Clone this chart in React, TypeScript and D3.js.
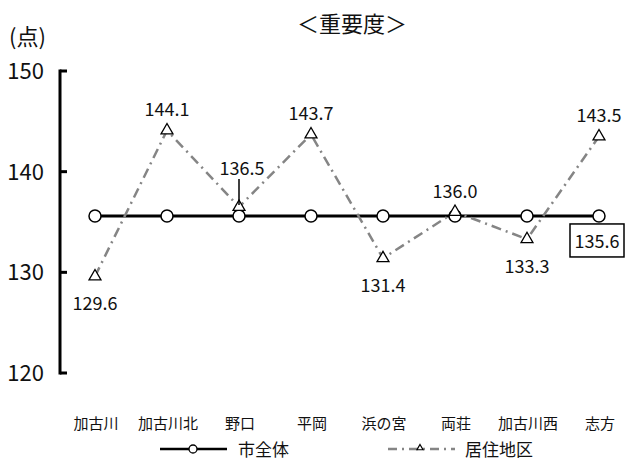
import * as d3 from "d3";

const W = 626;
const H = 461;
const FONT = "'Noto Sans CJK JP', sans-serif";

// data
const categories = ["加古川", "加古川北", "野口", "平岡", "浜の宮", "両荘", "加古川西", "志方"];
const cityTotal = [135.6, 135.6, 135.6, 135.6, 135.6, 135.6, 135.6, 135.6];
const district = [129.6, 144.1, 136.5, 143.7, 131.4, 136.0, 133.3, 143.5];
// label placement per district point: "up" | "down" | "lead"
const labelPos = ["down", "up", "lead", "up", "down", "up", "down", "up"];
const yTicks = [120, 130, 140, 150];
const seriesNames = ["市全体", "居住地区"];

const AXIS_X = 60;
const Y_TOP = 71;
const Y_BOTTOM = 373;

const App = () => {
  const x = d3.scalePoint<string>().domain(categories).range([95, 599]);
  const y = d3.scaleLinear().domain([120, 150]).range([Y_BOTTOM, Y_TOP]);

  const line = d3
    .line<number>()
    .x((_, i) => x(categories[i])!)
    .y((d) => y(d));

  const tri = d3.symbol().type(d3.symbolTriangle).size(62)()!;
  const triSmall = d3.symbol().type(d3.symbolTriangle).size(16)()!;

  const dashDot = "10 5 2 5";
  const gray = "#858585";

  const lastIdx = categories.length - 1;
  const lastX = x(categories[lastIdx])!;
  const lastY = y(cityTotal[lastIdx]);

  return (
    <div style={{ position: "absolute", left: 0, top: 0 }}>
      <svg width={W} height={H} style={{ display: "block", fontFamily: FONT }}>
        <rect width={W} height={H} fill="#fff" />

        {/* title */}
        <text x={352} y={32} textAnchor="middle" fontSize={22} fill="#111">
          ＜重要度＞
        </text>
        <text x={9} y={45} fontSize={22} fill="#111">
          (点)
        </text>

        {/* y axis */}
        <line x1={AXIS_X} x2={AXIS_X} y1={Y_TOP - 1.5} y2={Y_BOTTOM + 1.5} stroke="#000" strokeWidth={3} />
        {yTicks.map((t) => (
          <g key={t}>
            <line x1={AXIS_X} x2={AXIS_X + 7} y1={y(t)} y2={y(t)} stroke="#000" strokeWidth={3} />
            <text x={44} y={y(t) + 8} textAnchor="end" fontSize={22} fill="#111">
              {t}
            </text>
          </g>
        ))}

        {/* city total */}
        <path d={line(cityTotal)!} fill="none" stroke="#000" strokeWidth={3} />
        {cityTotal.map((v, i) => (
          <circle key={i} cx={x(categories[i])} cy={y(v)} r={6} fill="#fff" stroke="#000" strokeWidth={1.5} />
        ))}

        {/* district */}
        <path d={line(district)!} fill="none" stroke={gray} strokeWidth={2.5} strokeDasharray={dashDot} />
        {district.map((v, i) => (
          <path
            key={i}
            d={tri}
            transform={`translate(${x(categories[i])},${y(v)})`}
            fill="#fff"
            stroke="#000"
            strokeWidth={1.3}
          />
        ))}

        {/* value labels */}
        {district.map((v, i) => {
          const px = x(categories[i])!;
          const py = y(v);
          const pos = labelPos[i];
          if (pos === "lead") {
            return (
              <g key={i}>
                <line x1={px} x2={px} y1={py - 28} y2={py - 2} stroke="#000" strokeWidth={1.5} />
                <text x={px + 3} y={py - 32} textAnchor="middle" fontSize={18} fill="#111">
                  {v.toFixed(1)}
                </text>
              </g>
            );
          }
          return (
            <text key={i} x={px} y={pos === "up" ? py - 14 : py + 34} textAnchor="middle" fontSize={18} fill="#111">
              {v.toFixed(1)}
            </text>
          );
        })}

        {/* boxed city total label */}
        <rect x={lastX - 29} y={lastY + 8} width={54} height={33} fill="#fff" stroke="#000" strokeWidth={1.5} />
        <text x={lastX - 2} y={lastY + 32} textAnchor="middle" fontSize={18} fill="#111">
          {cityTotal[lastIdx].toFixed(1)}
        </text>

        {/* category labels */}
        {categories.map((c) => (
          <text key={c} x={x(c)! + 1} y={429} textAnchor="middle" fontSize={15} fill="#111">
            {c}
          </text>
        ))}

        {/* legend */}
        <line x1={160} x2={227} y1={449} y2={449} stroke="#000" strokeWidth={2.5} />
        <circle cx={193} cy={449} r={4} fill="#fff" stroke="#000" strokeWidth={1.3} />
        <text x={238} y={456} fontSize={17} fill="#111">
          {seriesNames[0]}
        </text>

        <line x1={388} x2={455} y1={449} y2={449} stroke={gray} strokeWidth={2.5} strokeDasharray="9 5 2 5" />
        <path d={triSmall} transform="translate(420,448)" fill="#fff" stroke="#000" strokeWidth={1.2} />
        <text x={465} y={456} fontSize={17} fill="#111">
          {seriesNames[1]}
        </text>
      </svg>
    </div>
  );
};

export default App;
